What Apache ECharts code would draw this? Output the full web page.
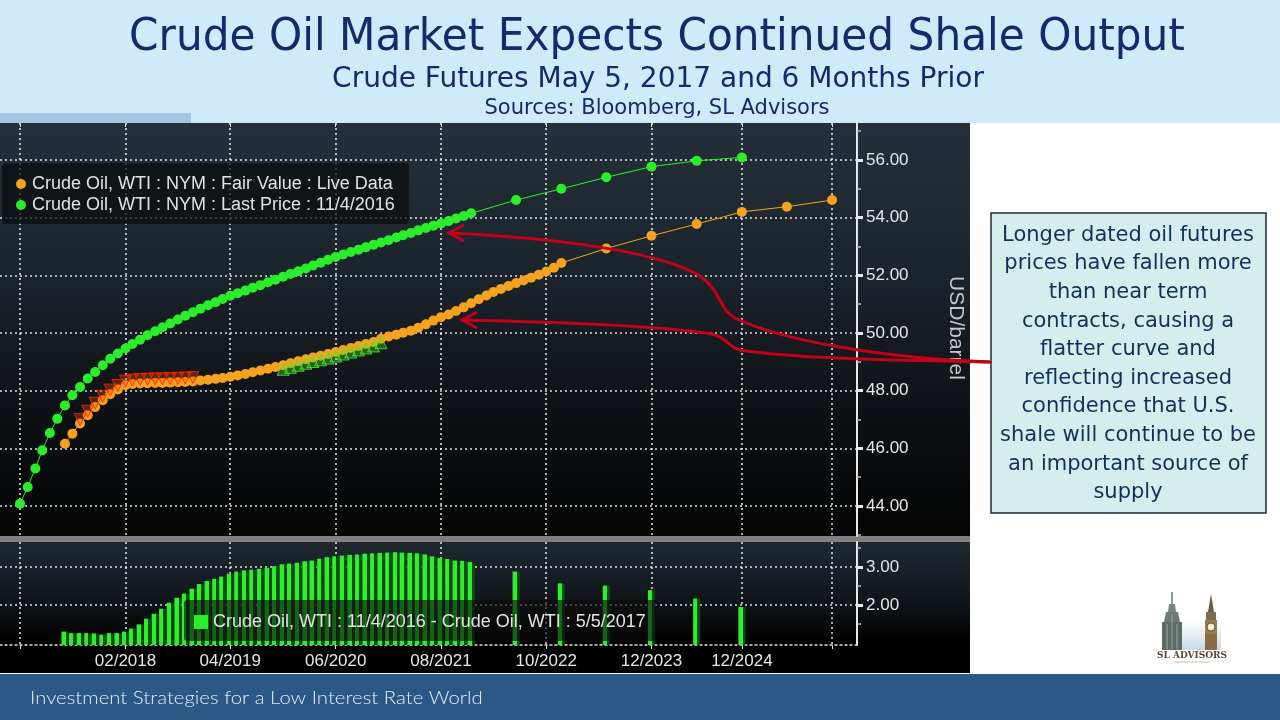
<!DOCTYPE html>
<html>
<head>
<meta charset="utf-8">
<title>Crude Oil Market Expects Continued Shale Output</title>
<script src="https://cdn.jsdelivr.net/npm/echarts@6.0.0/dist/echarts.min.js"></script>
<style>
  html, body { margin: 0; padding: 0; background: #fff; }
  #chart { width: 1280px; height: 720px; }
</style>
</head>
<body>
<div id="chart"></div>
<script>
// contract months (YYYY-MM) and settle prices
const greenMonths = monthRange("2016-12", "2021-12")
  .concat(["2022-06", "2022-12", "2023-06", "2023-12", "2024-06", "2024-12"]);
const greenPrices = [
  44.08, 44.66, 45.30, 45.93, 46.53, 47.03, 47.49, 47.84, 48.13, 48.42,
  48.65, 48.88, 49.11, 49.29, 49.46, 49.62, 49.77, 49.92, 50.06, 50.20,
  50.33, 50.47, 50.60, 50.72, 50.84, 50.96, 51.07, 51.18, 51.29, 51.38,
  51.47, 51.57, 51.66, 51.76, 51.85, 51.95, 52.05, 52.14, 52.24, 52.34,
  52.44, 52.54, 52.64, 52.72, 52.81, 52.89, 52.97, 53.06, 53.14, 53.22,
  53.31, 53.39, 53.47, 53.56, 53.64, 53.72, 53.80, 53.88, 53.97, 54.06,
  54.15,
  54.61, 55.00, 55.40, 55.77, 55.97, 56.09
];

const orangeMonths = monthRange("2017-06", "2022-12")
  .concat(["2023-06", "2023-12", "2024-06", "2024-12", "2025-06", "2025-12"]);
const orangePrices = [
  46.16, 46.51, 46.86, 47.15, 47.43, 47.67, 47.88, 48.04, 48.19, 48.23,
  48.25, 48.26, 48.27, 48.27, 48.28, 48.29, 48.30, 48.32, 48.35, 48.38,
  48.41, 48.44, 48.48, 48.53, 48.58, 48.64, 48.70, 48.76, 48.82, 48.88,
  48.95, 49.02, 49.09, 49.15, 49.21, 49.27, 49.34, 49.41, 49.48, 49.55,
  49.62, 49.69, 49.80, 49.88, 49.94, 50.01, 50.08, 50.18, 50.30, 50.43,
  50.55, 50.64, 50.76, 50.89, 51.03, 51.17, 51.30, 51.42, 51.53, 51.63,
  51.73, 51.82, 51.92, 52.02, 52.13, 52.26, 52.43,
  52.93, 53.37, 53.78, 54.20, 54.38, 54.61
];

const spreadMonths = monthRange("2017-06", "2021-12")
  .concat(["2022-06", "2022-12", "2023-06", "2023-12", "2024-06", "2024-12"]);
const spreadValues = [
  1.30, 1.26, 1.26, 1.26, 1.25, 1.22, 1.26, 1.26, 1.30, 1.38,
  1.49, 1.64, 1.77, 1.90, 2.06, 2.19, 2.30, 2.43, 2.55, 2.63,
  2.69, 2.75, 2.82, 2.88, 2.91, 2.93, 2.95, 2.98, 3.02, 3.07,
  3.09, 3.11, 3.15, 3.17, 3.22, 3.26, 3.28, 3.30, 3.32, 3.33,
  3.35, 3.36, 3.37, 3.38, 3.39, 3.38, 3.37, 3.36, 3.33, 3.28,
  3.24, 3.21, 3.17, 3.16, 3.13,
  2.88, 2.57, 2.51, 2.39, 2.17, 1.95
];

// Bloomberg's change markers sit on these stretches of the fair value curve
const fallingMonths = monthRange("2017-08", "2018-11");
const risingMonths = monthRange("2019-11", "2020-12");

const gridMonths = ["2016-12", "2018-02", "2019-04", "2020-06", "2021-08", "2022-10", "2023-12", "2024-12", "2025-12"];
const labelMonths = ["2018-02", "2019-04", "2020-06", "2021-08", "2022-10", "2023-12", "2024-12"];
const priceTicks = [44, 46, 48, 50, 52, 54, 56];
const priceMinorTicks = [43, 45, 47, 49, 51, 53, 55, 57];
const spreadTicks = [2, 3];
const spreadMinorTicks = [1.5, 2.5, 3.5];

const nameFair = "Crude Oil, WTI : NYM : Fair Value : Live Data";
const nameLast = "Crude Oil, WTI : NYM : Last Price : 11/4/2016";
const nameSpread = "Crude Oil, WTI : 11/4/2016 - Crude Oil, WTI : 5/5/2017";

const noteLines = [
  "Longer dated oil futures",
  "prices have fallen more",
  "than near term",
  "contracts, causing a",
  "flatter curve and",
  "reflecting increased",
  "confidence that U.S.",
  "shale will continue to be",
  "an important source of",
  "supply"
];

function monthRange(from, to){
  const out = [];
  let [y, m] = from.split("-").map(Number);
  const [ty, tm] = to.split("-").map(Number);
  while(y < ty || (y === ty && m <= tm)){
    out.push(y + "-" + String(m).padStart(2, "0"));
    m++;
    if(m > 12){ m = 1; y++; }
  }
  return out;
}
function toTime(s){
  const [y, m] = s.split("-").map(Number);
  return new Date(y, m - 1, 1).getTime();
}
function monthLabel(v){
  const d = new Date(v);
  return String(d.getMonth() + 1).padStart(2, "0") + "/" + d.getFullYear();
}
function pairs(months, values){
  return months.map((m, i) => [toTime(m), values[i]]);
}

const FONT_UI = "'Liberation Sans', Arial, sans-serif";
const FONT_SLIDE = "'DejaVu Sans', Verdana, sans-serif";
const GREEN = "#2bee2b";
const ORANGE = "#f5a21e";
const RED = "#c4001a";
const NAVY = "#16296a";

const xMin = new Date(2016, 8, 11).getTime();
const xMax = new Date(2026, 2, 12).getTime();

const greenData = pairs(greenMonths, greenPrices);
const orangeData = pairs(orangeMonths, orangePrices);
const orangeByTime = {};
orangeData.forEach(p => orangeByTime[p[0]] = p[1]);
const fallingData = fallingMonths.map(m => [toTime(m), orangeByTime[toTime(m)]]);
const risingData = risingMonths.map(m => [toTime(m), orangeByTime[toTime(m)]]);
const spreadData = pairs(spreadMonths, spreadValues);

const dotted = { color: "rgba(255,255,255,0.85)", width: 1.6, type: [2, 3] };

function slideText(x, y, text, size, color, family, extra){
  return Object.assign({
    type: "text", x: x, y: y, z: 50,
    style: {
      text: text, fill: color, fontSize: size, fontFamily: family,
      align: "center", verticalAlign: "middle",
      textAlign: "center", textVerticalAlign: "middle"
    }
  }, extra || {});
}
function curve(x1, y1, c1x, c1y, c2x, c2y, x2, y2){
  return {
    type: "bezierCurve", z: 100,
    shape: { x1: x1, y1: y1, cpx1: c1x, cpy1: c1y, cpx2: c2x, cpy2: c2y, x2: x2, y2: y2 },
    style: { stroke: RED, lineWidth: 3, fill: null, lineCap: "round" }
  };
}
function chevron(points){
  return {
    type: "polyline", z: 100,
    shape: { points: points },
    style: { stroke: RED, lineWidth: 3, fill: null, lineJoin: "miter" }
  };
}

const upperBg = new echarts.graphic.LinearGradient(0, 0, 0, 1, [
  { offset: 0, color: "#25303a" },
  { offset: 0.35, color: "#1c252d" },
  { offset: 0.5, color: "#161c22" },
  { offset: 0.75, color: "#0c0f12" },
  { offset: 1, color: "#030303" }
]);
const lowerBg = new echarts.graphic.LinearGradient(0, 0, 0, 1, [
  { offset: 0, color: "#1f2831" },
  { offset: 0.45, color: "#10151a" },
  { offset: 0.78, color: "#000000" },
  { offset: 1, color: "#000000" }
]);
const barFill = new echarts.graphic.LinearGradient(0, 0, 1, 0, [
  { offset: 0, color: "#2cf02c" },
  { offset: 0.6, color: "#2cf02c" },
  { offset: 0.6, color: "#0f4d10" },
  { offset: 1, color: "#0f4d10" }
]);

const graphics = [
  // slide furniture
  { type: "rect", z: -10, shape: { x: 0, y: 0, width: 1280, height: 123 }, style: { fill: "#d0eafa" } },
  { type: "rect", z: -9, shape: { x: 0, y: 113, width: 191, height: 10 }, style: { fill: "#a4c6e4" } },
  { type: "rect", z: -10, shape: { x: 0, y: 123, width: 970, height: 413 }, style: { fill: upperBg } },
  { type: "rect", z: -10, shape: { x: 0, y: 536, width: 970, height: 6 }, style: { fill: "#808080" } },
  { type: "rect", z: -10, shape: { x: 0, y: 542, width: 970, height: 131 }, style: { fill: lowerBg } },
  { type: "rect", z: -10, shape: { x: 0, y: 674, width: 1280, height: 46 }, style: { fill: "#2b5886" } },

  slideText(657, 39, "Crude Oil Market Expects Continued Shale Output", 44, NAVY, FONT_SLIDE, { scaleX: 0.96 }),
  slideText(658, 80, "Crude Futures May 5, 2017 and 6 Months Prior", 28, NAVY, FONT_SLIDE),
  slideText(657, 109, "Sources: Bloomberg, SL Advisors", 21, NAVY, FONT_SLIDE),
  {
    type: "text", x: 30, y: 698, z: 50, scaleX: 1.13,
    style: { text: "Investment Strategies for a Low Interest Rate World", fill: "#e6eef6",
      fontSize: 18, fontFamily: "Lato, 'Open Sans', sans-serif", fontWeight: 300,
      align: "left", verticalAlign: "middle", textAlign: "left", textVerticalAlign: "middle" }
  },
  slideText(956, 328, "USD/barrel", 21, "#c8c8c8", FONT_UI, { rotation: -Math.PI / 2 }),

  // note box
  { type: "rect", z: 90, shape: { x: 991, y: 213, width: 275, height: 300 },
    style: { fill: "#d6eded", stroke: "#1e2a36", lineWidth: 1.5 } },
  {
    type: "text", x: 1128, y: 364, z: 91,
    style: { text: noteLines.join("\n"), fill: "#12305a", fontSize: 21, fontFamily: FONT_SLIDE,
      lineHeight: 28.6, align: "center", verticalAlign: "middle", textAlign: "center", textVerticalAlign: "middle" }
  },

  // arrows from the note to the two curves
  curve(990, 362, 880, 358, 780, 340, 735, 318),
  curve(735, 318, 718, 308, 722, 292, 700, 276),
  curve(700, 276, 660, 252, 560, 238, 449, 233),
  chevron([[464, 225], [449, 233], [464, 241]]),
  curve(990, 362, 880, 360, 790, 358, 740, 350),
  curve(740, 350, 728, 347, 728, 338, 712, 334),
  curve(712, 334, 660, 326, 560, 322, 462, 320),
  chevron([[477, 312], [462, 320], [477, 328]]),

  // SL Advisors logo
  { type: "rect", z: 20, shape: { x: 1163, y: 620, width: 58, height: 30 },
    style: { fill: new echarts.graphic.LinearGradient(0, 0, 0, 1, [
      { offset: 0, color: "rgba(205,222,235,0)" }, { offset: 1, color: "#c6d9e5" }]) } },
  { type: "line", z: 21, shape: { x1: 1172, y1: 592, x2: 1172, y2: 605 }, style: { stroke: "#66736d", lineWidth: 1.5 } },
  { type: "polygon", z: 21, shape: { points: [[1169, 604], [1175, 604], [1176, 612], [1168, 612]] }, style: { fill: "#7a8780" } },
  { type: "polygon", z: 21, shape: { points: [[1166, 612], [1178, 612], [1180, 622], [1164, 622]] }, style: { fill: "#6d7a73" } },
  { type: "rect", z: 21, shape: { x: 1162, y: 622, width: 20, height: 28 }, style: { fill: "#5d6b66" } },
  { type: "line", z: 22, shape: { x1: 1167, y1: 624, x2: 1167, y2: 649 }, style: { stroke: "#9aa8a2", lineWidth: 1 } },
  { type: "line", z: 22, shape: { x1: 1172, y1: 614, x2: 1172, y2: 649 }, style: { stroke: "#9aa8a2", lineWidth: 1 } },
  { type: "line", z: 22, shape: { x1: 1177, y1: 624, x2: 1177, y2: 649 }, style: { stroke: "#9aa8a2", lineWidth: 1 } },
  { type: "polygon", z: 21, shape: { points: [[1211, 594], [1214, 612], [1208, 612]] }, style: { fill: "#6b5a45" } },
  { type: "rect", z: 21, shape: { x: 1206, y: 612, width: 10, height: 8 }, style: { fill: "#7d6a50" } },
  { type: "rect", z: 21, shape: { x: 1205, y: 620, width: 12, height: 14 }, style: { fill: "#9a7b4c" } },
  { type: "circle", z: 22, shape: { cx: 1211, cy: 627, r: 4 }, style: { fill: "#f2ecd8", stroke: "#4a3a28", lineWidth: 0.8 } },
  { type: "rect", z: 21, shape: { x: 1205, y: 634, width: 12, height: 16 }, style: { fill: "#8a6d43" } },
  slideText(1192, 656, "SL ADVISORS", 9, "#5a4630", "'DejaVu Serif', serif", {}),
  { type: "line", z: 21, shape: { x1: 1174, y1: 662, x2: 1210, y2: 662 }, style: { stroke: "#b7a892", lineWidth: 0.7 } }
];
graphics[graphics.length - 2].style.fontWeight = "bold";

const axisText = { color: "#e6e6e6", fontSize: 17, fontFamily: FONT_UI };

const option = {
  backgroundColor: "#ffffff",
  animation: false,
  grid: [
    { left: 0, top: 123, width: 857, height: 413 },
    { left: 0, top: 542, width: 857, height: 103 }
  ],
  legend: [
    {
      data: [nameFair, nameLast],
      orient: "vertical", left: 2, top: 163,
      padding: [12, 14, 10, 14], itemGap: 3,
      icon: "circle", itemWidth: 12, itemHeight: 10,
      selectedMode: false,
      backgroundColor: "rgba(10,12,14,0.72)", borderRadius: 4,
      textStyle: { color: "#e2e2e2", fontSize: 18, fontFamily: FONT_UI }
    },
    {
      data: [{ name: nameSpread, itemStyle: { color: GREEN } }],
      left: 184, top: 600,
      padding: [13, 11, 10, 10],
      icon: "rect", itemWidth: 14, itemHeight: 14,
      selectedMode: false,
      backgroundColor: "rgba(12,12,12,0.62)", borderRadius: 3,
      textStyle: { color: "#e2e2e2", fontSize: 18, fontFamily: FONT_UI }
    }
  ],
  xAxis: [
    {
      type: "value", gridIndex: 0, min: xMin, max: xMax, position: "top",
      axisLine: { show: false },
      axisTick: { show: true, inside: true, length: 4, lineStyle: { color: "#dddddd" },
        customValues: gridMonths.map(toTime) },
      axisLabel: { show: false },
      splitLine: { show: true, lineStyle: dotted }
    },
    {
      type: "value", gridIndex: 1, min: xMin, max: xMax, position: "bottom",
      axisLine: { show: true, lineStyle: { color: "#dddddd", width: 1.5, type: [2, 3] } },
      axisTick: { show: true, length: 4, lineStyle: { color: "#dddddd" },
        customValues: gridMonths.map(toTime) },
      axisLabel: Object.assign({ margin: 8, formatter: monthLabel,
        customValues: labelMonths.map(toTime) }, axisText),
      splitLine: { show: true, lineStyle: dotted }
    }
  ],
  yAxis: [
    {
      type: "value", gridIndex: 0, position: "right", min: 42.96, max: 57.283,
      axisLine: { show: true, lineStyle: { color: "#e8e8e8", width: 2 } },
      axisTick: { show: true, length: 6, lineStyle: { color: "#e8e8e8", width: 3 },
        customValues: priceTicks },
      axisLabel: Object.assign({ margin: 9, formatter: v => v.toFixed(2),
        customValues: priceTicks }, axisText),
      splitLine: { show: true, lineStyle: dotted }
    },
    {
      type: "value", gridIndex: 0, position: "right", min: 42.96, max: 57.283,
      axisLine: { show: false },
      axisTick: { show: true, length: 4, lineStyle: { color: "#bbbbbb", width: 1.5 },
        customValues: priceMinorTicks },
      axisLabel: { show: false },
      splitLine: { show: false }
    },
    {
      type: "value", gridIndex: 1, position: "right", min: 0.947, max: 3.658,
      axisLine: { show: true, lineStyle: { color: "#e8e8e8", width: 2 } },
      axisTick: { show: true, length: 6, lineStyle: { color: "#e8e8e8", width: 3 },
        customValues: spreadTicks },
      axisLabel: Object.assign({ margin: 9, formatter: v => v.toFixed(2),
        customValues: spreadTicks }, axisText),
      splitLine: { show: true, lineStyle: dotted }
    },
    {
      type: "value", gridIndex: 1, position: "right", min: 0.947, max: 3.658,
      axisLine: { show: false },
      axisTick: { show: true, length: 4, lineStyle: { color: "#bbbbbb", width: 1.5 },
        customValues: spreadMinorTicks },
      axisLabel: { show: false },
      splitLine: { show: false }
    }
  ],
  series: [
    {
      name: nameLast, type: "line", xAxisIndex: 0, yAxisIndex: 0, z: 3,
      data: greenData, symbol: "circle", symbolSize: 10, showAllSymbol: true,
      itemStyle: { color: GREEN }, lineStyle: { color: GREEN, width: 1 }
    },
    {
      name: nameFair, type: "line", xAxisIndex: 0, yAxisIndex: 0, z: 4,
      data: orangeData, symbol: "circle", symbolSize: 10, showAllSymbol: true,
      itemStyle: { color: ORANGE }, lineStyle: { color: ORANGE, width: 1 }
    },
    {
      name: "falling", type: "scatter", xAxisIndex: 0, yAxisIndex: 0, z: 5,
      data: fallingData, symbol: "triangle", symbolRotate: 180, symbolSize: 12, symbolOffset: [0, -4],
      itemStyle: { color: "rgba(255,70,0,0.4)", borderColor: "#ff2200", borderWidth: 1 }
    },
    {
      name: "rising", type: "scatter", xAxisIndex: 0, yAxisIndex: 0, z: 5,
      data: risingData, symbol: "triangle", symbolSize: 12, symbolOffset: [0, 4],
      itemStyle: { color: "rgba(90,220,20,0.45)", borderColor: "#3cf03c", borderWidth: 1 }
    },
    {
      name: nameSpread, type: "bar", xAxisIndex: 1, yAxisIndex: 2, z: 3,
      data: spreadData, barWidth: 7,
      itemStyle: { color: barFill }
    }
  ],
  graphic: graphics
};

const chart = echarts.init(document.getElementById("chart"));
chart.setOption(option);
</script>
</body>
</html>
